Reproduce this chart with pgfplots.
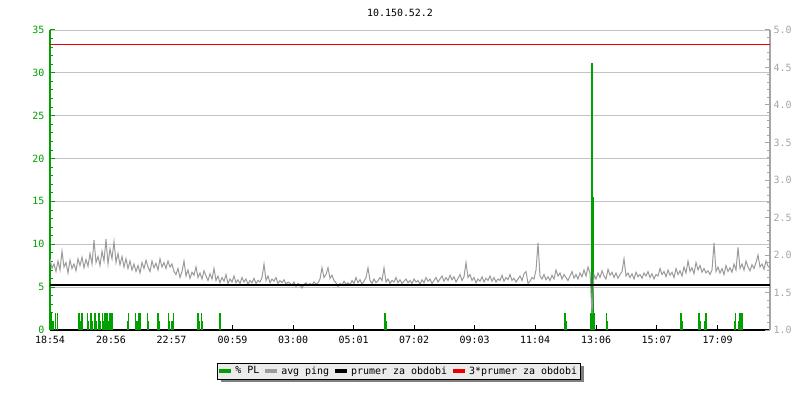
\documentclass[border=0pt]{standalone}
\usepackage{pgfplots}
\pgfplotsset{compat=1.18}
\usepackage{fontspec}
\setmainfont{DejaVu Sans Mono}
\usetikzlibrary{shadows}
\makeatletter
\tikzset{noshadow/.code={\let\tikz@preactions\pgfutil@empty}}
\makeatother
\definecolor{plgreen}{RGB}{0,160,0}
\definecolor{pinggray}{RGB}{155,155,155}
\definecolor{gridgray}{RGB}{195,195,195}
\definecolor{axgray}{RGB}{165,165,165}
\definecolor{legbg}{RGB}{235,235,235}
\definecolor{avgred}{RGB}{235,0,0}
\begin{document}
\begin{tikzpicture}[x=1bp,y=1bp]
\useasboundingbox (0,0) rectangle (800,400);
\node[font=\fontsize{10}{12}\selectfont] at (400,387) {10.150.52.2};
\begin{axis}[
  at={(50bp,70bp)}, anchor=south west,
  scale only axis, width=720bp, height=300bp,
  xmin=0, xmax=1440, ymin=0, ymax=35,
  axis y line*=left, axis x line*=bottom,
  ytick={0,5,...,35}, minor y tick num=4,
  y axis line style={plgreen, line width=1.3bp},
  x axis line style={black, line width=1.5bp},
  y tick style={plgreen, line width=1bp},
  x tick style={black, line width=1bp},
  tick align=inside, major tick length=5bp, minor tick length=3bp,
  yticklabel style={plgreen, font=\fontsize{10}{12}\selectfont, xshift=-2bp},
  xticklabel style={black, font=\fontsize{10}{12}\selectfont, yshift=-3bp},
  /pgf/number format/assume math mode=true,
  ymajorgrids, major grid style={gridgray, line width=0.9bp},
  xtick={0,122,243,365,486,607,728,849,970,1092,1213,1335},
  xticklabels={18:54,20:56,22:57,00:59,03:00,05:01,07:02,09:03,11:04,13:06,15:07,17:09},
  clip=false,
]
\addplot[plgreen, ycomb, line width=1.1bp, no markers] coordinates {
(2,2)(6,1)(11,2)(15,2)
(58,2)(60,1)(64,2)
(75,2)(77,1)(82,2)(84,1)(90,2)(92,1)
(98,2)(101,1)(105,2)(108,1)(110,2)(114,2)(117,1)(120,2)(124,2)
(155,1)(157,2)(171,2)(173,1)(176,1)(178,2)(181,2)
(195,2)(197,1)(216,2)(218,1)(237,2)(239,1)(244,1)(247,2)
(296,2)(298,1)(303,2)(305,1)(339,1)(340,2)
(670,2)(672,1)(1030,2)(1032,1)
(1082,2)(1084,31.1)(1086,15.5)(1088,2)
(1113,2)(1115,1)(1262,2)(1264,1)(1298,2)(1300,1)(1310,1)(1312,2)
(1369,1)(1371,2)(1378,1)(1380,2)(1382,1)(1384,2)
};
\end{axis}
\begin{axis}[
  at={(50bp,70bp)}, anchor=south west,
  scale only axis, width=720bp, height=300bp,
  xmin=0, xmax=1440, ymin=1, ymax=5,
  axis y line*=right, axis x line=none,
  ytick={1,1.5,...,5}, minor y tick num=4,
  y axis line style={axgray, line width=1.3bp},
  y tick style={axgray, line width=1bp},
  tick align=inside, major tick length=5bp, minor tick length=3bp,
  yticklabel style={axgray, font=\fontsize{10}{12}\selectfont,
    /pgf/number format/.cd, fixed, fixed zerofill, precision=1},
  /pgf/number format/assume math mode=true,
  legend columns=4,
  legend style={at={(0.485,-0.137)}, anchor=center,
    font=\fontsize{10}{12}\selectfont, draw=black, line width=1bp, fill=legbg,
    inner xsep=1.5bp, inner ysep=1.5bp,
    drop shadow={shadow xshift=3bp, shadow yshift=-3bp, fill=black!50, opacity=1},
    /tikz/every odd column/.append style={column sep=2bp},
    /tikz/every even column/.append style={column sep=4bp}},
  legend image code/.code={\fill[noshadow, #1] (0bp,-1.2bp) rectangle (11bp,1.2bp);},
]
\addlegendimage{plgreen}
\addlegendentry{\% PL}
\addlegendimage{pinggray}
\addlegendentry{avg ping}
\addlegendimage{black}
\addlegendentry{prumer za obdobi}
\addlegendimage{avgred}
\addlegendentry{3*prumer za obdobi}
\addplot[pinggray, sharp plot, line width=1bp, no markers, forget plot] coordinates {
(0,1.95)(4,1.82)(8,1.88)(12,1.78)(16,1.92)(20,1.80)(24,2.05)(28,1.84)(32,1.90)(36,1.76)(40,1.93)(44,1.82)(48,1.88)(52,1.79)(56,1.95)
(60,1.86)(64,1.97)(68,1.83)(72,1.94)(76,1.85)(80,2.02)(84,1.88)(88,2.20)(92,1.90)(96,1.98)(100,1.86)(104,2.05)(108,1.92)(112,2.21)(116,1.88)
(120,2.08)(124,1.95)(128,2.18)(132,1.90)(136,2.02)(140,1.87)(144,1.98)(148,1.84)(152,1.95)(156,1.82)(160,1.92)(164,1.80)(168,1.88)(172,1.78)(176,1.86)
(180,1.76)(184,1.90)(188,1.82)(192,1.93)(196,1.84)(200,1.78)(204,1.92)(208,1.83)(212,1.89)(216,1.80)(220,1.95)(224,1.84)(228,1.90)(232,1.82)(236,1.92)
(240,1.84)(244,1.88)(248,1.78)(252,1.74)(256,1.82)(260,1.70)(264,1.78)(268,1.92)(272,1.72)(276,1.80)(280,1.69)(284,1.77)(288,1.73)(292,1.84)(296,1.70)
(300,1.76)(304,1.68)(308,1.79)(312,1.72)(316,1.66)(320,1.75)(324,1.68)(328,1.82)(332,1.66)(336,1.72)(340,1.63)(344,1.70)(348,1.65)(352,1.74)(356,1.62)
(360,1.68)(364,1.64)(368,1.72)(372,1.63)(376,1.67)(380,1.62)(384,1.70)(388,1.64)(392,1.68)(396,1.61)(400,1.66)(404,1.63)(408,1.69)(412,1.62)(416,1.66)
(420,1.64)(424,1.70)(428,1.88)(432,1.66)(436,1.72)(440,1.63)(444,1.68)(448,1.65)(452,1.70)(456,1.62)(460,1.66)(464,1.63)(468,1.67)(472,1.61)(476,1.64)
(480,1.62)(484,1.60)(488,1.64)(492,1.58)(496,1.62)(500,1.60)(504,1.56)(508,1.61)(512,1.63)(516,1.59)(520,1.62)(524,1.60)(528,1.64)(532,1.61)(536,1.63)
(540,1.68)(544,1.83)(548,1.70)(552,1.74)(556,1.83)(560,1.69)(564,1.73)(568,1.66)(572,1.63)(576,1.58)(580,1.62)(584,1.60)(588,1.65)(592,1.61)(596,1.63)
(600,1.60)(604,1.66)(608,1.62)(612,1.70)(616,1.63)(620,1.67)(624,1.61)(628,1.65)(632,1.70)(636,1.83)(640,1.66)(644,1.62)(648,1.68)(652,1.63)(656,1.66)
(660,1.70)(664,1.66)(668,1.83)(672,1.64)(676,1.68)(680,1.62)(684,1.66)(688,1.64)(692,1.70)(696,1.63)(700,1.67)(704,1.62)(708,1.65)(712,1.68)(716,1.63)
(720,1.66)(724,1.62)(728,1.68)(732,1.64)(736,1.66)(740,1.61)(744,1.67)(748,1.63)(752,1.70)(756,1.65)(760,1.68)(764,1.62)(768,1.66)(772,1.70)(776,1.64)
(780,1.68)(784,1.72)(788,1.65)(792,1.70)(796,1.66)(800,1.73)(804,1.67)(808,1.71)(812,1.64)(816,1.69)(820,1.74)(824,1.66)(828,1.71)(832,1.90)(836,1.70)
(840,1.74)(844,1.66)(848,1.70)(852,1.63)(856,1.68)(860,1.65)(864,1.71)(868,1.64)(872,1.69)(876,1.66)(880,1.72)(884,1.65)(888,1.70)(892,1.64)(896,1.68)
(900,1.66)(904,1.73)(908,1.65)(912,1.70)(916,1.67)(920,1.74)(924,1.66)(928,1.69)(932,1.64)(936,1.68)(940,1.72)(944,1.66)(948,1.75)(952,1.78)(956,1.62)
(960,1.65)(964,1.70)(968,1.68)(972,1.80)(976,2.16)(980,1.72)(984,1.68)(988,1.74)(992,1.67)(996,1.71)(1000,1.66)(1004,1.73)(1008,1.68)(1012,1.80)(1016,1.72)
(1020,1.76)(1024,1.68)(1028,1.74)(1032,1.70)(1036,1.66)(1040,1.72)(1044,1.78)(1048,1.69)(1052,1.74)(1056,1.68)(1060,1.76)(1064,1.71)(1068,1.80)(1072,1.72)(1076,1.84)
(1080,1.76)(1084,1.22)(1088,1.74)(1092,1.68)(1096,1.76)(1100,1.70)(1104,1.79)(1108,1.72)(1112,1.68)(1116,1.81)(1120,1.73)(1124,1.77)(1128,1.70)(1132,1.76)(1136,1.69)
(1140,1.74)(1144,1.78)(1148,1.95)(1152,1.72)(1156,1.76)(1160,1.70)(1164,1.75)(1168,1.68)(1172,1.77)(1176,1.71)(1180,1.74)(1184,1.69)(1188,1.76)(1192,1.72)(1196,1.78)
(1200,1.70)(1204,1.75)(1208,1.68)(1212,1.74)(1216,1.72)(1220,1.82)(1224,1.74)(1228,1.78)(1232,1.71)(1236,1.80)(1240,1.73)(1244,1.77)(1248,1.70)(1252,1.82)(1256,1.74)
(1260,1.79)(1264,1.72)(1268,1.84)(1272,1.76)(1276,1.92)(1280,1.78)(1284,1.83)(1288,1.75)(1292,1.90)(1296,1.80)(1300,1.86)(1304,1.77)(1308,1.82)(1312,1.76)(1316,1.79)
(1320,1.74)(1324,1.80)(1328,2.16)(1332,1.78)(1336,1.84)(1340,1.76)(1344,1.82)(1348,1.74)(1352,1.86)(1356,1.78)(1360,1.83)(1364,1.77)(1368,1.88)(1372,1.80)(1376,2.10)
(1380,1.82)(1384,1.88)(1388,1.80)(1392,1.92)(1396,1.84)(1400,1.79)(1404,1.87)(1408,1.82)(1412,1.90)(1416,2.00)(1420,1.84)(1424,1.88)(1428,1.81)(1432,1.92)(1436,1.85)(1440,1.83)
};
\addplot[black, line width=2.6bp, no markers, forget plot] coordinates {(0,1.6)(1440,1.6)};
\addplot[avgred, line width=1bp, no markers, forget plot] coordinates {(0,4.8)(1440,4.8)};
\end{axis}
\end{tikzpicture}
\end{document}
